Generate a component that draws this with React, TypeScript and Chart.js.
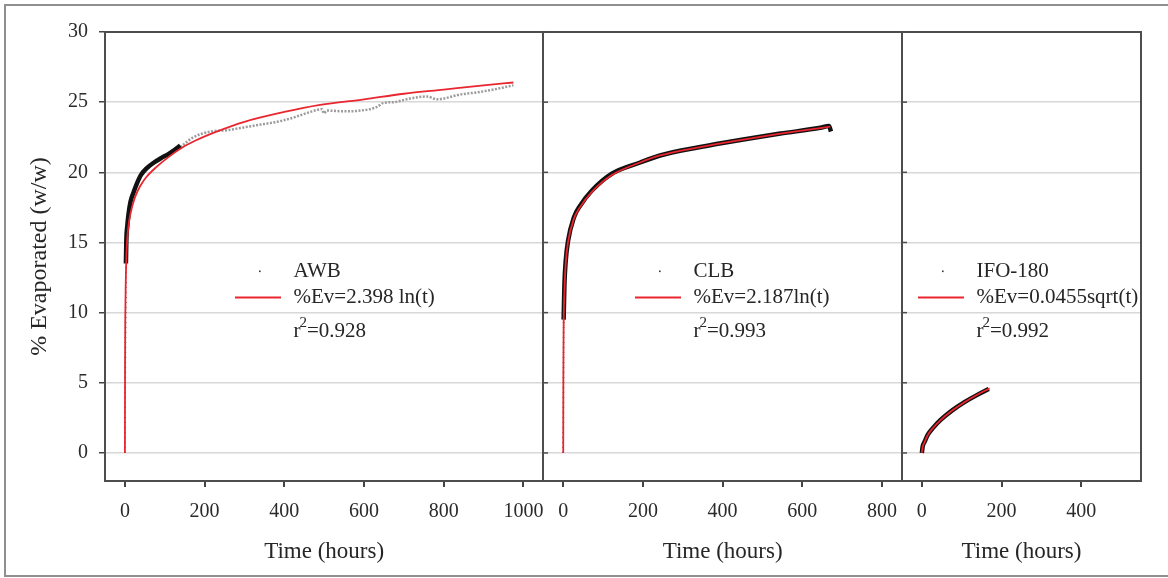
import React, { useEffect, useRef } from "react";
import { Chart, registerables } from "chart.js";

Chart.register(...registerables);

// ---------- data (time in hours, % evaporated) ----------
const yTicks = [0, 5, 10, 15, 20, 25, 30];

const panelNames = ["AWB", "CLB", "IFO-180"];
const panelEquations = ["%Ev=2.398 ln(t)", "%Ev=2.187ln(t)", "%Ev=0.0455sqrt(t)"];
const panelR2 = ["=0.928", "=0.993", "=0.992"];
const panelMin = [-50, -50, -50];
const panelMax = [1050, 850, 550];
const panelTicks = [
  [0, 200, 400, 600, 800, 1000],
  [0, 200, 400, 600, 800],
  [0, 200, 400],
];
const xTitle = "Time (hours)";
const yTitle = "% Evaporated (w/w)";

// AWB
const awbEarlyT = [0, 2.5];
const awbEarlyV = [0, 13.5];
const awbObsT = [2.5, 3.5, 6, 9, 14, 22, 30, 40, 55, 73, 90, 109, 125, 139];
const awbObsV = [13.5, 15.1, 16.2, 17.0, 17.9, 18.6, 19.2, 19.8, 20.3, 20.7, 21.0, 21.3, 21.6, 21.9];
const awbTailT = [139, 172, 214, 256, 298, 340, 382, 423, 465, 495, 499, 507, 549, 591, 633, 649, 674, 716, 758, 783, 800, 842, 884, 925, 975];
const awbTailV = [21.8, 22.5, 22.9, 23.0, 23.2, 23.4, 23.6, 23.9, 24.3, 24.5, 24.2, 24.4, 24.35, 24.4, 24.66, 24.95, 25.0, 25.26, 25.4, 25.2, 25.26, 25.55, 25.7, 25.9, 26.2];
const awbFitT = [0, 0.3, 1, 2, 3.5, 5.2, 9, 13.5, 25, 40, 55, 80, 110, 140, 180, 230, 300, 400, 490, 600, 700, 800, 900, 975];
const awbFitV = [0, 6, 9.8, 12, 13.8, 15, 16.2, 17, 18.2, 19.1, 19.7, 20.4, 21.1, 21.7, 22.3, 22.9, 23.6, 24.3, 24.8, 25.2, 25.6, 25.9, 26.2, 26.4];

// CLB
const clbEarlyT = [0, 1];
const clbEarlyV = [0, 9.5];
const clbObsT = [1, 3, 6, 12, 27, 42, 72, 122, 193, 243, 344, 444, 545, 645, 667, 672];
const clbObsV = [9.5, 12, 13.6, 15.1, 16.8, 17.6, 18.7, 19.9, 20.7, 21.2, 21.8, 22.3, 22.76, 23.17, 23.3, 22.9];
const clbFitT = [0, 0.3, 1, 3, 6, 12, 27, 42, 72, 122, 193, 243, 344, 444, 545, 645, 670];
const clbFitV = [0, 5, 8.9, 11.4, 13.4, 15.0, 16.7, 17.5, 18.6, 19.8, 20.7, 21.2, 21.8, 22.3, 22.75, 23.15, 23.25];

// IFO-180
const ifoObsT = [0, 2, 7, 15, 27, 47, 77, 107, 138, 168];
const ifoObsV = [0, 0.45, 0.8, 1.3, 1.75, 2.35, 3.05, 3.62, 4.12, 4.55];
const ifoFitT = [0, 2, 7, 15, 27, 47, 77, 107, 138, 170];
const ifoFitV = [0, 0.42, 0.78, 1.28, 1.74, 2.34, 3.04, 3.62, 4.13, 4.6];

// ---------- layout helpers ----------
const FONT = '"Liberation Serif", "Times New Roman", serif';
const RED = "#e9262f";

// each panel is laid out on one shared x axis: compute offsets
const offsets: number[] = [];
panelMin.forEach((mn, i) => {
  if (i === 0) offsets.push(0);
  else offsets.push(panelMax[i - 1] + offsets[i - 1] - mn);
});
const dividers = panelMax.slice(0, -1).map((mx, i) => mx + offsets[i]);
const xMin = panelMin[0] + offsets[0];
const xMax = panelMax[panelMax.length - 1] + offsets[offsets.length - 1];
const tickLabelMap = new Map<number, string>();
panelTicks.forEach((arr, i) => arr.forEach((t) => tickLabelMap.set(t + offsets[i], String(t))));
const xTickValues = Array.from(tickLabelMap.keys());

const pts = (ts: number[], vs: number[], p: number) => ts.map((t, i) => ({ x: t + offsets[p], y: vs[i] }));

// legend placement (canvas pixels)
const legendTextX = [293.5, 693.5, 976.5];
const legendRowY = [271.5, 297, 331.5];

const overlay = {
  id: "overlay",
  beforeDraw(chart: any) {
    const { ctx, width, height } = chart;
    ctx.save();
    ctx.fillStyle = "#ffffff";
    ctx.fillRect(0, 0, width, height);
    ctx.restore();
  },
  afterDraw(chart: any) {
    const { ctx, chartArea: a, scales } = chart;
    const x = scales.x;
    const y = scales.y;
    ctx.save();
    // plot frame
    ctx.strokeStyle = "#4d4d4d";
    ctx.lineWidth = 2;
    ctx.strokeRect(a.left, a.top, a.right - a.left, a.bottom - a.top);
    // dividers with small inward ticks
    dividers.forEach((d) => {
      const px = Math.round(x.getPixelForValue(d));
      ctx.beginPath();
      ctx.moveTo(px, a.top);
      ctx.lineTo(px, a.bottom);
      ctx.stroke();
      ctx.lineWidth = 1.5;
      yTicks.forEach((v) => {
        const py = y.getPixelForValue(v);
        ctx.beginPath();
        ctx.moveTo(px, py);
        ctx.lineTo(px + 5, py);
        ctx.stroke();
      });
      ctx.lineWidth = 2;
    });
    // outer border
    ctx.strokeStyle = "#8f8f8f";
    ctx.lineWidth = 2;
    ctx.strokeRect(5, 5, 1200, 571);

    ctx.fillStyle = "#262626";
    // y title
    ctx.save();
    ctx.translate(39.5, (a.top + a.bottom) / 2);
    ctx.rotate(-Math.PI / 2);
    ctx.font = `24px ${FONT}`;
    ctx.textAlign = "center";
    ctx.textBaseline = "middle";
    ctx.fillText(yTitle, 0, 0);
    ctx.restore();

    // x titles, centered under each panel
    ctx.font = `23px ${FONT}`;
    ctx.textAlign = "center";
    ctx.textBaseline = "middle";
    panelMin.forEach((mn, i) => {
      const l = x.getPixelForValue(mn + offsets[i]);
      const r = x.getPixelForValue(panelMax[i] + offsets[i]);
      ctx.fillText(xTitle, (l + r) / 2, 552);
    });

    // legends
    ctx.textAlign = "left";
    panelNames.forEach((name, i) => {
      const tx = legendTextX[i];
      // marker
      ctx.fillStyle = "#333";
      ctx.fillRect(tx - 34.5, legendRowY[0] - 1, 1.6, 1.6);
      // line sample
      ctx.strokeStyle = RED;
      ctx.lineWidth = 2;
      ctx.beginPath();
      ctx.moveTo(tx - 58.5, legendRowY[1] + 0.5);
      ctx.lineTo(tx - 12.5, legendRowY[1] + 0.5);
      ctx.stroke();
      ctx.fillStyle = "#262626";
      ctx.font = `21px ${FONT}`;
      ctx.fillText(name, tx, legendRowY[0]);
      ctx.fillText(panelEquations[i], tx, legendRowY[1]);
      ctx.fillText("r", tx, legendRowY[2]);
      const rw = ctx.measureText("r").width;
      ctx.font = `15px ${FONT}`;
      ctx.fillText("2", tx + rw - 1, legendRowY[2] - 8);
      const sw = ctx.measureText("2").width;
      ctx.font = `21px ${FONT}`;
      ctx.fillText(panelR2[i], tx + rw - 1 + sw, legendRowY[2]);
    });
    ctx.restore();
  },
};

export default function App() {
  const ref = useRef<HTMLCanvasElement | null>(null);

  useEffect(() => {
    if (!ref.current) return;
    const black = (data: any[]) => ({
      data,
      borderColor: "#111111",
      borderWidth: 4.5,
      pointRadius: 0,
      cubicInterpolationMode: "monotone" as const,
      order: 1,
    });
    const early = (data: any[]) => ({
      data,
      borderColor: "#222222",
      borderWidth: 1.5,
      borderDash: [1, 4],
      pointRadius: 0,
      order: 3,
    });
    const fit = (data: any[]) => ({
      data,
      borderColor: RED,
      borderWidth: 1.8,
      pointRadius: 0,
      cubicInterpolationMode: "monotone" as const,
      order: 0,
    });

    const chart = new Chart(ref.current, {
      type: "line",
      data: {
        datasets: [
          fit(pts(awbFitT, awbFitV, 0)),
          black(pts(awbObsT, awbObsV, 0)),
          early(pts(awbEarlyT, awbEarlyV, 0)),
          {
            data: pts(awbTailT, awbTailV, 0),
            borderColor: "#9c9c9c",
            borderWidth: 2.5,
            borderDash: [2, 1.5],
            pointRadius: 0,
            cubicInterpolationMode: "monotone",
            order: 2,
          },
          fit(pts(clbFitT, clbFitV, 1)),
          black(pts(clbObsT, clbObsV, 1)),
          early(pts(clbEarlyT, clbEarlyV, 1)),
          fit(pts(ifoFitT, ifoFitV, 2)),
          black(pts(ifoObsT, ifoObsV, 2)),
        ] as any,
      },
      options: {
        animation: false,
        responsive: false,
        devicePixelRatio: 1,
        parsing: false as any,
        layout: { padding: { top: 32, right: 27, left: 0, bottom: 0 } },
        plugins: {
          legend: { display: false },
          tooltip: { enabled: false },
        },
        scales: {
          x: {
            type: "linear",
            min: xMin,
            max: xMax,
            afterBuildTicks: (s: any) => {
              s.ticks = xTickValues.map((v) => ({ value: v }));
            },
            afterFit: (s: any) => {
              s.height = 97;
            },
            grid: {
              drawOnChartArea: false,
              drawTicks: true,
              tickLength: 6,
              tickColor: "#444",
              lineWidth: 2,
            },
            border: { display: false },
            ticks: {
              autoSkip: false,
              maxRotation: 0,
              minRotation: 0,
              padding: 13,
              color: "#2a2a2a",
              font: { family: FONT, size: 20 },
              callback: (v: any) => tickLabelMap.get(Math.round(Number(v))) ?? "",
            },
          },
          y: {
            type: "linear",
            min: -2,
            max: 30,
            afterBuildTicks: (s: any) => {
              s.ticks = yTicks.map((v) => ({ value: v }));
            },
            afterFit: (s: any) => {
              s.width = 105;
            },
            grid: {
              color: "#d8d8d8",
              lineWidth: 1.5,
              tickColor: "#444",
              tickLength: 6,
            },
            border: { display: false },
            ticks: {
              padding: 11,
              color: "#2a2a2a",
              font: { family: FONT, size: 20 },
              callback: (v: any) => String(v),
            },
          },
        },
      },
      plugins: [overlay],
    });
    return () => chart.destroy();
  }, []);

  return (
    <div style={{ position: "absolute", left: 0, top: 0, width: 1168, height: 578, background: "#fff" }}>
      <canvas ref={ref} width={1168} height={578} style={{ display: "block" }} />
    </div>
  );
}
